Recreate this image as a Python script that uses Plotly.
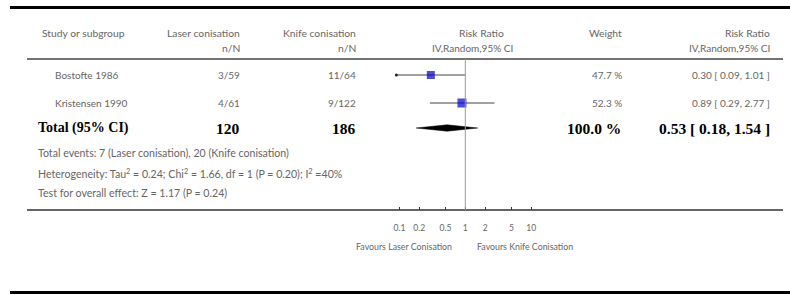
import plotly.graph_objects as go

# ---- data ----
studies = ["Bostofte 1986", "Kristensen 1990"]
laser_nN = ["3/59", "4/61"]
knife_nN = ["11/64", "9/122"]
rr = [0.30, 0.89]
rr_lo = [0.09, 0.29]
rr_hi = [1.01, 2.77]
weights = ["47.7 %", "52.3 %"]
rr_text = ["0.30 [ 0.09, 1.01 ]", "0.89 [ 0.29, 2.77 ]"]
marker_sizes = [8, 9]

total_label = "Total (95% CI)"
total_laser_N = "120"
total_knife_N = "186"
total_rr = 0.53
total_lo = 0.18
total_hi = 1.54
total_weight = "100.0 %"
total_rr_text = "0.53 [ 0.18, 1.54 ]"

footer_lines = [
    "Total events: 7 (Laser conisation), 20 (Knife conisation)",
    "Heterogeneity: Tau<sup>2</sup> = 0.24; Chi<sup>2</sup> = 1.66, df = 1 (P = 0.20); I<sup>2</sup> =40%",
    "Test for overall effect: Z = 1.17 (P = 0.24)",
]
tick_vals = [0.1, 0.2, 0.5, 1, 2, 5, 10]
tick_text = ["0.1", "0.2", "0.5", "1", "2", "5", "10"]
favours_left = "Favours Laser Conisation"
favours_right = "Favours Knife Conisation"

# ---- layout geometry (page pixels) ----
W, H = 790, 295
row_y = [75, 103]
total_y = 128
footer_y = [153, 173, 193]
axis_y = 210
header_line_y = 59

SANS = "Lato, 'Open Sans', sans-serif"
SERIF = "'Liberation Serif', 'Times New Roman', serif"
GRAY = "#666666"

def px(x):
    return x / W

fig = go.Figure()

# CI lines
for i in range(len(studies)):
    fig.add_trace(go.Scatter(x=[rr_lo[i], rr_hi[i]], y=[row_y[i], row_y[i]], mode="lines",
                             line=dict(color="#444444", width=1), hoverinfo="skip", showlegend=False))
fig.add_trace(go.Scatter(x=[rr_lo[0]], y=[row_y[0]], mode="markers",
                         marker=dict(color="#222222", size=3), hoverinfo="skip", showlegend=False))
# squares
fig.add_trace(go.Scatter(x=rr, y=row_y, mode="markers",
                         marker=dict(symbol="square", color="#0000cc", size=marker_sizes,
                                     line=dict(width=0)),
                         showlegend=False))
# diamond
dh = 3.2
fig.add_trace(go.Scatter(x=[total_lo, total_rr, total_hi, total_rr, total_lo],
                         y=[total_y, total_y - dh, total_y, total_y + dh, total_y],
                         mode="lines", fill="toself", fillcolor="black",
                         line=dict(color="black", width=0.5), showlegend=False, hoverinfo="skip"))

shapes = [
    dict(type="line", xref="paper", yref="y", x0=px(10), x1=1, y0=7.5, y1=7.5,
         line=dict(color="black", width=3)),
    dict(type="line", xref="paper", yref="y", x0=px(27), x1=px(783), y0=header_line_y, y1=header_line_y,
         line=dict(color="#444444", width=1.5)),
    dict(type="line", xref="paper", yref="y", x0=px(27), x1=px(783), y0=axis_y, y1=axis_y,
         line=dict(color="#333333", width=1.5)),
    dict(type="line", xref="paper", yref="y", x0=px(10), x1=1, y0=292.5, y1=292.5,
         line=dict(color="black", width=3)),
    dict(type="line", xref="x", yref="y", x0=1, x1=1, y0=header_line_y, y1=axis_y,
         line=dict(color="#999999", width=1)),
]

ann = []
def txt(x, y, s, anchor="left", size=10, font=SANS, color=GRAY, bold=False):
    ann.append(dict(x=px(x), y=y, xref="paper", yref="y", text=s, showarrow=False,
                    xanchor=anchor, yanchor="middle",
                    font=dict(family=font, size=size, color=color,
                              weight="bold" if bold else "normal")))

HS = 10.3
# headers
txt(40, 33, "Study or subgroup", size=HS)
txt(242, 33, "Laser conisation", "right", size=HS)
txt(242, 48, "n/N", "right", size=HS)
txt(358, 33, "Knife conisation", "right", size=HS)
txt(358, 48, "n/N", "right", size=HS)
txt(481, 33, "Risk Ratio", "center", size=HS)
txt(472, 48, "IV,Random,95% CI", "center", size=10)
txt(624, 33, "Weight", "right", size=HS)
txt(772, 33, "Risk Ratio", "right", size=HS)
txt(772, 48, "IV,Random,95% CI", "right", size=10)

# study rows
for i in range(len(studies)):
    txt(53, row_y[i], studies[i])
    txt(242, row_y[i], laser_nN[i], "right")
    txt(358, row_y[i], knife_nN[i], "right")
    txt(624, row_y[i], weights[i], "right")
    txt(772, row_y[i], rr_text[i], "right")

# total row
txt(36, total_y, total_label, size=14, font=SERIF, color="black", bold=True)
NS = 15.5
txt(242, total_y, total_laser_N, "right", size=NS, font=SERIF, color="black", bold=True)
txt(358, total_y, total_knife_N, "right", size=NS, font=SERIF, color="black", bold=True)
txt(623, total_y, total_weight, "right", size=NS, font=SERIF, color="black", bold=True)
txt(772, total_y, total_rr_text, "right", size=NS, font=SERIF, color="black", bold=True)

for y, s in zip(footer_y, footer_lines):
    txt(36, y, s, size=10.6)

txt(454, 246, favours_left, "right", size=8.8)
txt(475, 246, favours_right, "left", size=8.8)

x0, x1 = 333.5, 597.1
fig.update_layout(
    width=W, height=H, margin=dict(l=0, r=0, t=0, b=0),
    paper_bgcolor="white", plot_bgcolor="white",
    xaxis=dict(type="log", range=[-2, 2], domain=[px(x0), px(x1)],
               anchor="free", position=(H - axis_y) / H,
               tickvals=tick_vals, ticktext=tick_text,
               ticks="inside", ticklen=3, tickcolor="#333333", tickwidth=1,
               showgrid=False, zeroline=False, showline=False,
               tickfont=dict(family=SANS, size=8.5, color=GRAY),
               ticklabelstandoff=11, fixedrange=True),
    yaxis=dict(range=[H, 0], domain=[0, 1], visible=False, fixedrange=True),
    shapes=shapes, annotations=ann, showlegend=False,
)

fig.write_html("out.html", config={"displayModeBar": False},
               post_script="document.body.style.margin='0px';")
